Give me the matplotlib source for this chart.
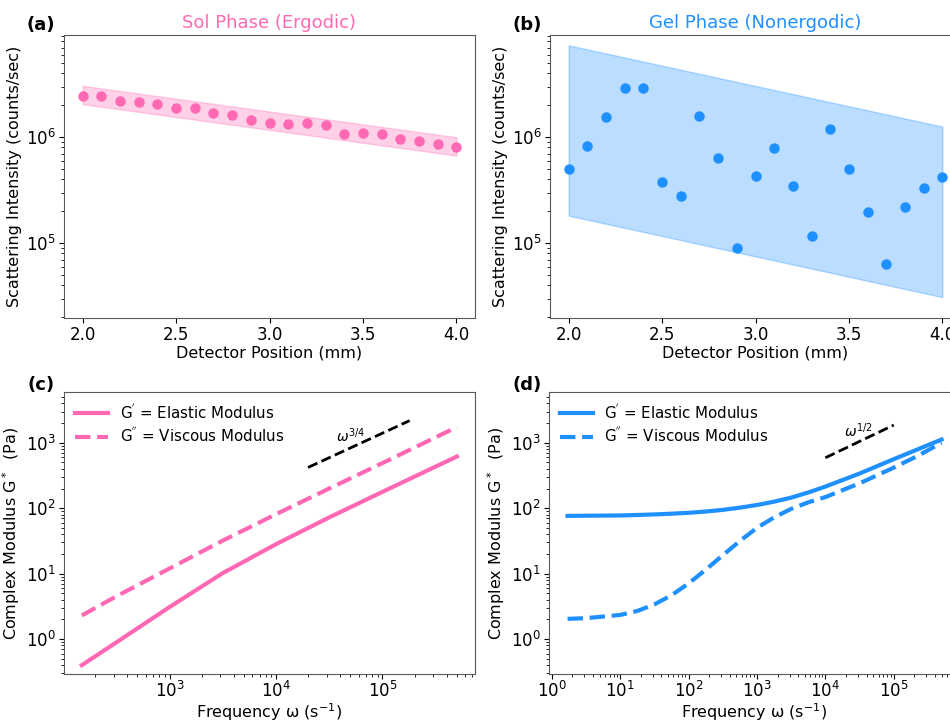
import numpy as np
import matplotlib
matplotlib.use("Agg")
import matplotlib.pyplot as plt

# ============================================
# DATA
# ============================================

pink = "#FF69B4"
blue = "#1E90FF"

# (a) sol phase - intensity vs detector position
pos = [2.0, 2.1, 2.2, 2.3, 2.4, 2.5, 2.6, 2.7, 2.8, 2.9, 3.0,
       3.1, 3.2, 3.3, 3.4, 3.5, 3.6, 3.7, 3.8, 3.9, 4.0]
sol_I = [2.44e6, 2.44e6, 2.21e6, 2.13e6, 2.04e6, 1.87e6, 1.90e6, 1.69e6, 1.63e6, 1.46e6, 1.37e6,
         1.33e6, 1.35e6, 1.30e6, 1.07e6, 1.10e6, 1.06e6, 9.7e5, 9.2e5, 8.6e5, 8.06e5]
sol_band_x = [2.0, 4.0]
sol_band_hi = [3.05e6, 1.0e6]
sol_band_lo = [2.05e6, 6.7e5]

# (b) gel phase
gel_I = [5.0e5, 8.24e5, 1.56e6, 2.88e6, 2.90e6, 3.76e5, 2.80e5, 1.60e6, 6.36e5, 9.04e4, 4.30e5,
         7.94e5, 3.50e5, 1.16e5, 1.19e6, 5.05e5, 1.95e5, 6.36e4, 2.19e5, 3.30e5, 4.19e5]
gel_band_x = [2.0, 4.0]
gel_band_hi = [7.35e6, 1.26e6]
gel_band_lo = [1.82e5, 3.1e4]

# (c) sol rheology
w_c = [150, 316, 1e3, 3.16e3, 1e4, 3.16e4, 1e5, 5e5]
Gp_c = [0.40, 0.89, 3.09, 10.2, 28.2, 72.4, 178, 617]
Gpp_c = [2.3, 4.5, 12, 32, 81, 200, 490, 1740]
ref_c_w = [2e4, 1.8e5]
ref_c_G = [420, 2180]

# (d) gel rheology
w_d = [1.7, 3.16, 10, 17.8, 31.6, 56.2, 100, 178, 316, 562, 1e3,
       1.78e3, 3.16e3, 5.62e3, 1e4, 3.16e4, 1e5, 2.24e5, 5e5]
Gp_d = [76.4, 76.8, 77.6, 78.8, 80.4, 82.5, 85.1, 89.0, 94.4, 102, 112,
        126, 145, 174, 214, 339, 562, 794, 1122]
Gpp_d = [2.04, 2.09, 2.34, 2.69, 3.39, 4.68, 7.08, 11.5, 19.1, 31.6, 50.1,
         72.4, 97.7, 123, 148, 240, 417, 631, 1000]
ref_d_w = [1e4, 1e5]
ref_d_G = [590, 1865]

# ============================================
# FIGURE
# ============================================

plt.rcParams["font.size"] = 11.5
plt.rcParams["axes.edgecolor"] = "0.35"
plt.rcParams["xtick.labelsize"] = 12
plt.rcParams["ytick.labelsize"] = 12
plt.rcParams["xtick.major.pad"] = 2.5
plt.rcParams["ytick.major.pad"] = 2.5

fig = plt.figure(figsize=(9.5, 7.21), dpi=100)
W, H = 950, 721

def box(l, r, t, b):
    return [l / W, 1 - b / H, (r - l) / W, (b - t) / H]

ax_a = fig.add_axes(box(64, 475, 35, 318))
ax_b = fig.add_axes(box(550, 961, 35, 318))
ax_c = fig.add_axes(box(64, 475, 392, 674))
ax_d = fig.add_axes(box(549, 960, 392, 674))

# --- scattering panels ---
for ax, I, bx, hi, lo, col, title in [
        (ax_a, sol_I, sol_band_x, sol_band_hi, sol_band_lo, pink, "Sol Phase (Ergodic)"),
        (ax_b, gel_I, gel_band_x, gel_band_hi, gel_band_lo, blue, "Gel Phase (Nonergodic)")]:
    ax.fill_between(bx, lo, hi, color=col, alpha=0.3, lw=1)
    ax.plot(pos, I, "o", color=col, ms=6.5, zorder=3)
    ax.set_yscale("log")
    ax.set_xlim(1.9, 4.1)
    ax.set_ylim(1.97e4, 9.2e6)
    ax.set_xticks([2.0, 2.5, 3.0, 3.5, 4.0])
    ax.set_xlabel("Detector Position (mm)", labelpad=1)
    ax.set_ylabel("Scattering Intensity (counts/sec)", labelpad=3)
    ax.set_title(title, color=col, fontsize=13, pad=5)

# --- rheology panels ---
for ax, w, gp, gpp, col in [(ax_c, w_c, Gp_c, Gpp_c, pink), (ax_d, w_d, Gp_d, Gpp_d, blue)]:
    ax.plot(w, gp, "-", color=col, lw=3, label=r"G$^{'}$ = Elastic Modulus")
    ax.plot(w, gpp, "--", color=col, lw=3, label=r"G$^{''}$ = Viscous Modulus")
    ax.set_xscale("log")
    ax.set_yscale("log")
    ax.set_ylim(0.293, 5.97e3)
    ax.tick_params(axis="x", which="major", pad=1.5)
    ax.set_xlabel(r"Frequency ω (s$^{-1}$)", labelpad=0)
    ax.set_ylabel(r"Complex Modulus G$^*$  (Pa)", labelpad=3)
    ax.legend(loc="upper left", frameon=False, fontsize=10.8, handlelength=2.2,
              borderaxespad=0.3, labelspacing=0.3)

ax_c.set_xlim(102, 7.4e5)
ax_d.set_xlim(0.91, 9.3e5)

ax_c.plot(ref_c_w, ref_c_G, "--", color="black", lw=2)
ax_c.text(5e4, 1.3e3, r"$\omega^{3/4}$", ha="center", va="center", fontsize=10)
ax_d.plot(ref_d_w, ref_d_G, "--", color="black", lw=2)
ax_d.text(3e4, 1.55e3, r"$\omega^{1/2}$", ha="center", va="center", fontsize=10)

# panel letters
for x, y, lab in [(41, 25, "(a)"), (527, 25, "(b)"), (41, 385, "(c)"), (527, 385, "(d)")]:
    fig.text(x / W, 1 - y / H, lab, fontsize=13, fontweight="bold", ha="center", va="center")

fig.savefig("out.png", dpi=100)
